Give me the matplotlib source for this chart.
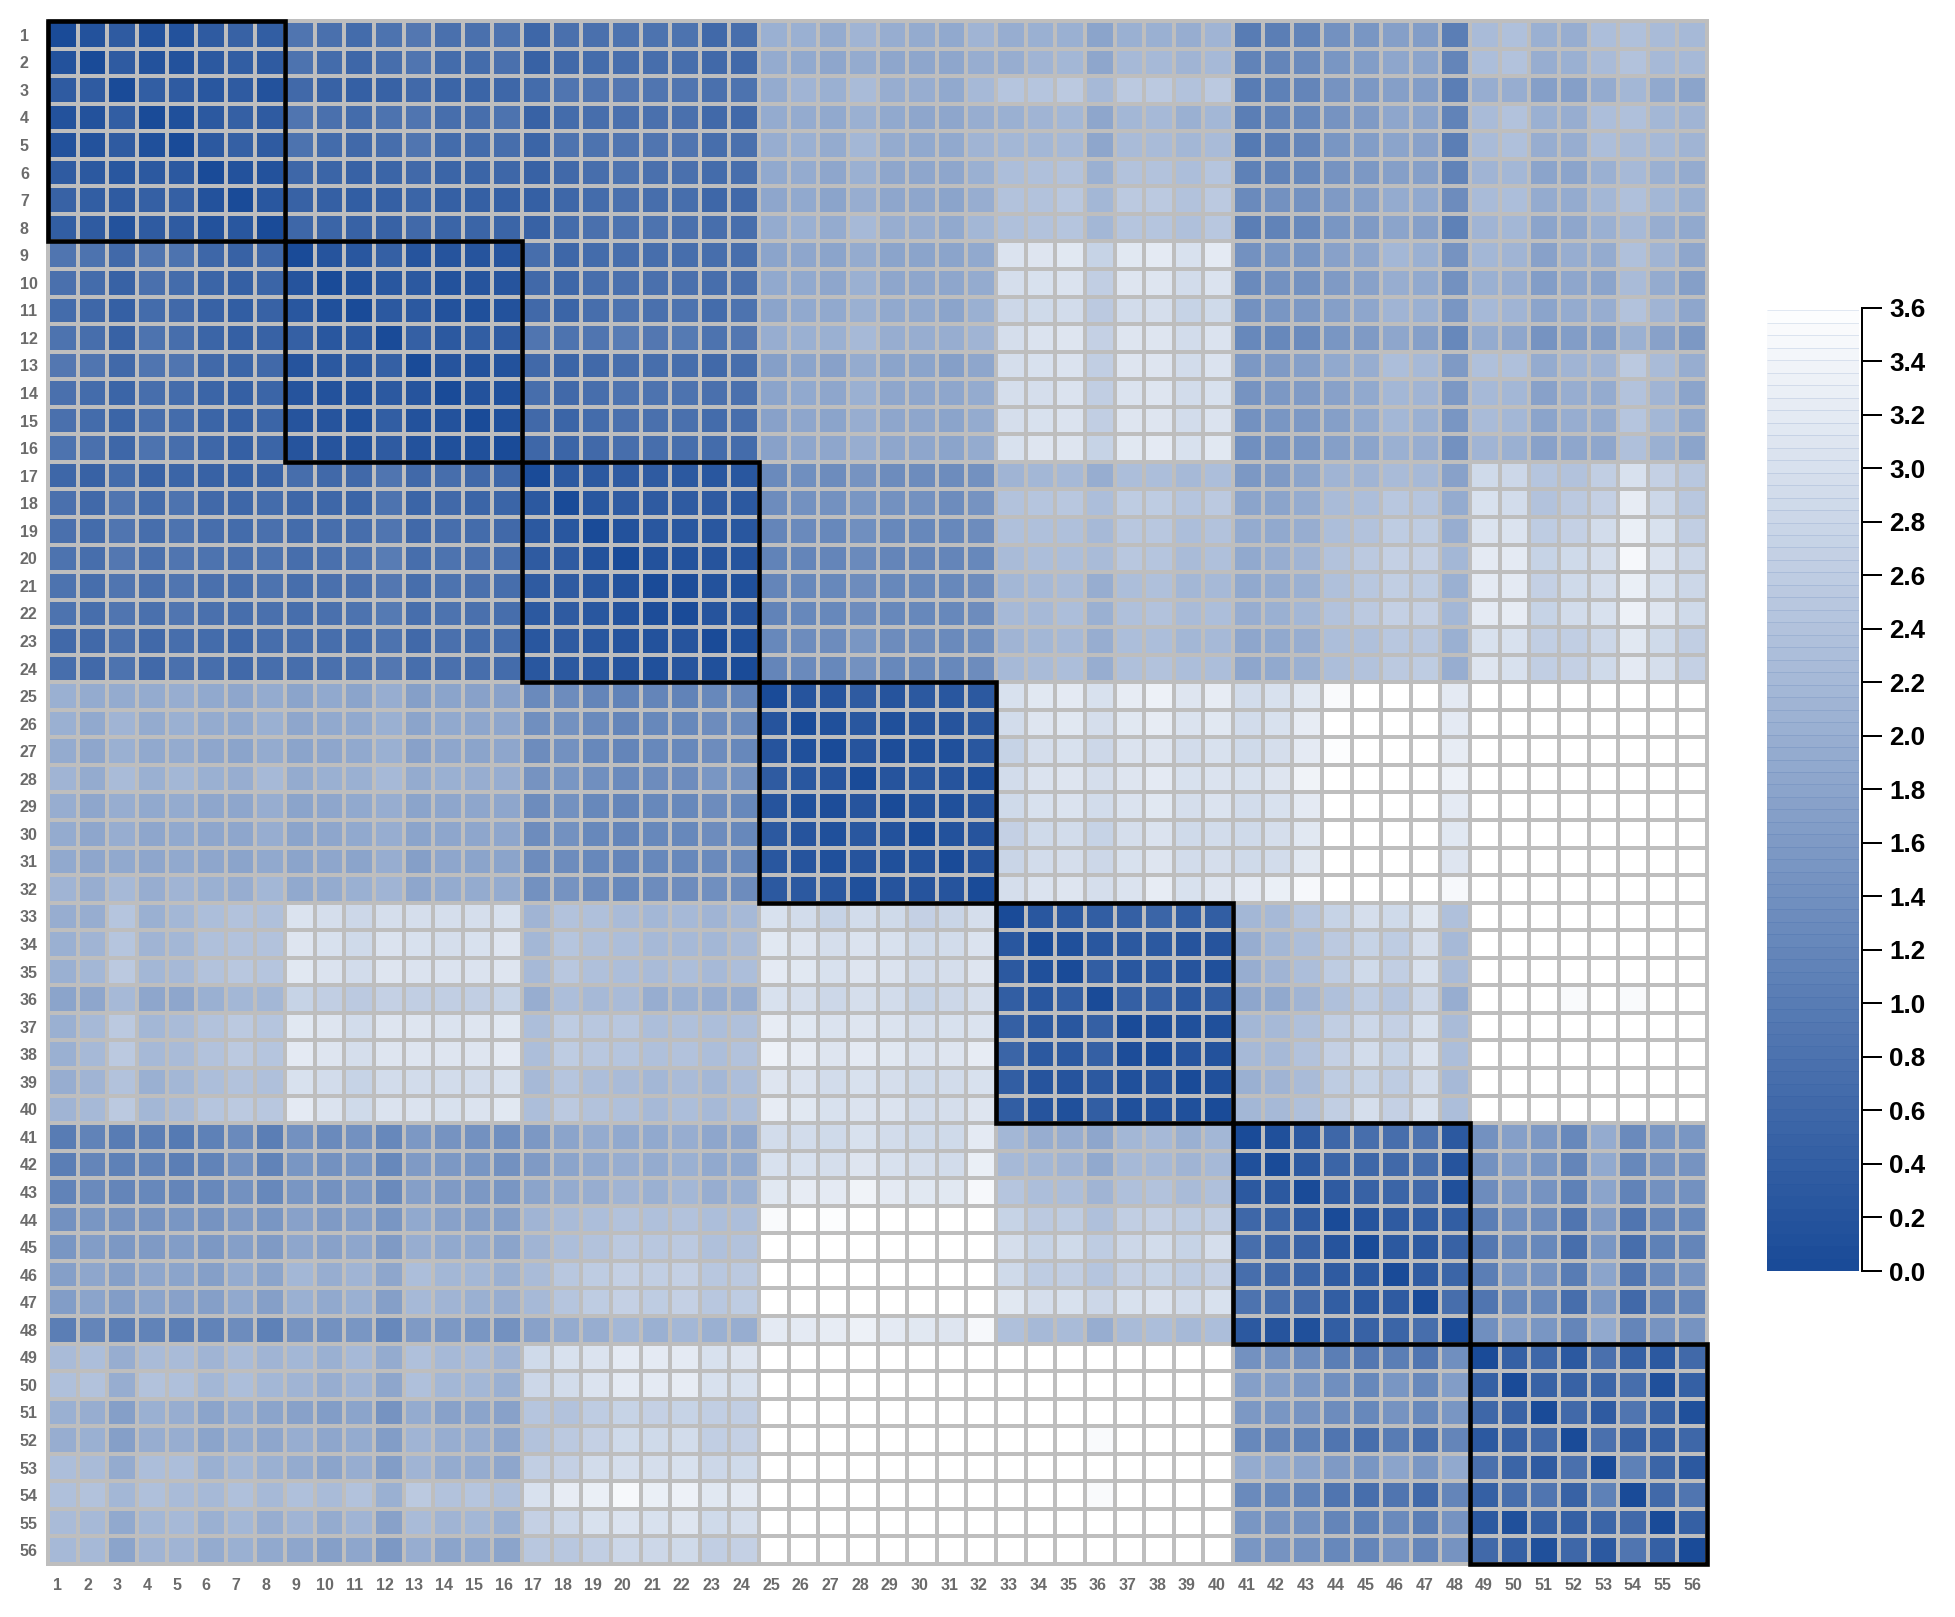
import numpy as np
import matplotlib
matplotlib.use('Agg')
import matplotlib.pyplot as plt
from matplotlib.colors import LinearSegmentedColormap, Normalize
from matplotlib.patches import Rectangle

W, H = 1955, 1617

labels = [str(i) for i in range(1, 57)]
cbar_ticks = [0.0, 0.2, 0.4, 0.6, 0.8, 1.0, 1.2, 1.4, 1.6, 1.8, 2.0, 2.2, 2.4, 2.6, 2.8, 3.0, 3.2, 3.4, 3.6]
# the boxed groups on the diagonal: first and last sample
groups = [(1, 8), (9, 16), (17, 24), (25, 32), (33, 40), (41, 48), (49, 56)]

# distances, lower triangle, the matrix is symmetric
g1 = [
    [0],
    [.15, 0],
    [.35, .35, 0],
    [.15, .15, .38, 0],
    [.15, .17, .35, .12, 0],
    [.35, .3, .25, .3, .3, 0],
    [.5, .4, .33, .42, .42, .18, 0],
    [.4, .35, .15, .35, .33, .15, .25, 0],
]
g2 = [
    [.88, .82, .62, .85, .8, .6, .5, .6, 0],
    [.78, .68, .5, .75, .68, .52, .42, .52, .2, 0],
    [.68, .6, .45, .68, .62, .48, .38, .47, .25, .12, 0],
    [.82, .72, .48, .8, .72, .52, .42, .48, .42, .27, .32, 0],
    [.9, .85, .65, .88, .85, .65, .55, .62, .2, .28, .32, .42, 0],
    [.75, .68, .55, .72, .68, .55, .45, .52, .2, .15, .15, .3, .22, 0],
    [.75, .68, .55, .72, .68, .53, .45, .52, .2, .2, .13, .38, .15, .15, 0],
    [.82, .75, .58, .8, .72, .58, .45, .55, .2, .2, .17, .35, .15, .12, .1, 0],
]
g3 = [
    [.58, .5, .68, .5, .52, .5, .42, .5, .7, .65, .65, .88, .65, .7, .65, .6, 0],
    [.75, .65, .85, .68, .8, .65, .6, .68, .58, .58, .55, .82, .52, .62, .55, .55, .28, 0],
    [.75, .68, .88, .72, .8, .72, .68, .75, .68, .72, .72, .85, .65, .72, .68, .65, .3, .27, 0],
    [.82, .72, .92, .78, .88, .8, .75, .8, .72, .78, .82, .98, .72, .82, .78, .72, .33, .33, .17, 0],
    [.8, .72, .88, .75, .85, .78, .72, .8, .72, .78, .78, .92, .72, .8, .75, .7, .33, .33, .25, .15, 0],
    [.8, .72, .88, .75, .85, .78, .72, .78, .72, .78, .8, .95, .72, .8, .75, .7, .32, .33, .25, .18, .08, 0],
    [.65, .62, .78, .62, .7, .68, .6, .7, .72, .72, .68, .82, .65, .75, .68, .68, .25, .33, .27, .22, .18, .22, 0],
    [.7, .62, .82, .65, .75, .7, .65, .73, .72, .75, .8, .92, .7, .78, .72, .68, .27, .32, .25, .22, .12, .22, .1, 0],
]
g4 = [
    [2.03, 1.95, 1.95, 1.95, 2.0, 1.9, 1.85, 1.95, 1.78, 1.88, 1.8, 1.98, 1.72, 1.8, 1.75, 1.75,
     1.3, 1.32, 1.2, 1.15, 1.2, 1.15, 1.25, 1.2, 0],
    [2.05, 1.9, 2.1, 1.95, 2.05, 1.95, 1.88, 2.05, 1.85, 1.9, 1.88, 2.05, 1.8, 1.9, 1.85, 1.85,
     1.38, 1.4, 1.3, 1.2, 1.25, 1.25, 1.35, 1.3, .2, 0],
    [1.95, 1.85, 2.03, 1.9, 1.93, 1.85, 1.8, 1.95, 1.8, 1.85, 1.88, 2.03, 1.75, 1.85, 1.8, 1.85,
     1.35, 1.4, 1.25, 1.2, 1.25, 1.25, 1.35, 1.25, .2, .13, 0],
    [2.1, 1.95, 2.25, 2.05, 2.15, 2.05, 2.0, 2.2, 1.95, 2.02, 2.02, 2.2, 1.93, 2.05, 1.98, 2.0,
     1.48, 1.5, 1.38, 1.3, 1.35, 1.35, 1.5, 1.4, .33, .25, .22, 0],
    [2.0, 1.85, 2.0, 1.9, 1.93, 1.85, 1.85, 1.98, 1.8, 1.85, 1.88, 2.0, 1.78, 1.85, 1.82, 1.85,
     1.35, 1.4, 1.25, 1.2, 1.25, 1.25, 1.35, 1.25, .2, .12, .06, .2, 0],
    [1.95, 1.82, 1.98, 1.85, 1.9, 1.85, 1.85, 1.98, 1.78, 1.85, 1.88, 2.0, 1.78, 1.85, 1.82, 1.82,
     1.35, 1.4, 1.25, 1.2, 1.25, 1.25, 1.35, 1.25, .3, .22, .12, .25, .18, 0],
    [1.9, 1.82, 1.9, 1.85, 1.9, 1.83, 1.78, 1.9, 1.78, 1.85, 1.8, 2.0, 1.72, 1.82, 1.78, 1.78,
     1.32, 1.35, 1.22, 1.2, 1.22, 1.22, 1.3, 1.22, .25, .2, .1, .2, .12, .15, 0],
    [2.1, 2.0, 2.2, 2.0, 2.1, 2.05, 2.0, 2.15, 1.88, 1.95, 2.02, 2.12, 1.85, 1.95, 1.92, 1.92,
     1.4, 1.45, 1.35, 1.22, 1.35, 1.32, 1.38, 1.35, .32, .3, .25, .12, .22, .22, .22, 0],
]
g5 = [
    [2.0, 2.0, 2.45, 2.05, 2.15, 2.3, 2.4, 2.35, 3.05, 2.95, 2.8, 2.98, 2.95, 2.95, 2.95, 3.02,
     2.1, 2.4, 2.35, 2.25, 2.15, 2.2, 2.1, 2.2, 3.0, 2.9, 2.75, 2.9, 2.85, 2.7, 2.78, 2.95, 0],
    [2.05, 2.1, 2.45, 2.1, 2.15, 2.35, 2.4, 2.4, 3.1, 3.0, 2.85, 3.05, 3.0, 2.98, 3.0, 3.08,
     2.15, 2.45, 2.35, 2.3, 2.2, 2.2, 2.15, 2.25, 3.15, 3.1, 2.95, 3.05, 3.0, 2.85, 2.9, 3.05, .27, 0],
    [2.05, 2.15, 2.55, 2.15, 2.2, 2.4, 2.5, 2.45, 3.15, 3.05, 2.9, 3.1, 3.05, 3.05, 3.05, 3.1,
     2.2, 2.5, 2.35, 2.3, 2.25, 2.3, 2.2, 2.3, 3.2, 3.15, 3.0, 3.1, 3.05, 2.9, 2.95, 3.1, .3, .1, 0],
    [1.8, 1.85, 2.2, 1.85, 1.85, 2.05, 2.15, 2.15, 2.75, 2.65, 2.55, 2.7, 2.65, 2.65, 2.65, 2.75,
     2.0, 2.3, 2.2, 2.25, 2.0, 2.05, 1.98, 2.0, 3.0, 2.95, 2.8, 2.95, 2.9, 2.75, 2.8, 2.95, .4, .25, .38, 0],
    [2.05, 2.2, 2.55, 2.15, 2.25, 2.4, 2.55, 2.45, 3.15, 3.1, 2.9, 3.1, 3.1, 3.05, 3.1, 3.15,
     2.3, 2.6, 2.5, 2.5, 2.3, 2.35, 2.3, 2.35, 3.25, 3.15, 3.05, 3.1, 3.05, 2.95, 3.0, 3.05, .45, .28, .27, .42, 0],
    [2.05, 2.2, 2.55, 2.2, 2.25, 2.4, 2.55, 2.45, 3.2, 3.1, 2.95, 3.1, 3.1, 3.1, 3.1, 3.2,
     2.3, 2.6, 2.5, 2.45, 2.35, 2.4, 2.3, 2.4, 3.35, 3.25, 3.1, 3.2, 3.15, 3.05, 3.1, 3.25, .52, .3, .3, .42, .07, 0],
    [2.0, 2.1, 2.4, 2.05, 2.15, 2.3, 2.4, 2.35, 3.0, 2.9, 2.75, 2.9, 2.9, 2.9, 2.9, 3.0,
     2.2, 2.45, 2.3, 2.25, 2.15, 2.25, 2.15, 2.3, 3.1, 3.05, 2.9, 3.0, 2.95, 2.85, 2.9, 3.0, .38, .2, .22, .3, .13, .2, 0],
    [2.1, 2.2, 2.55, 2.15, 2.25, 2.45, 2.55, 2.5, 3.2, 3.05, 2.85, 3.05, 3.05, 3.0, 3.05, 3.15,
     2.3, 2.55, 2.4, 2.35, 2.2, 2.3, 2.2, 2.3, 3.25, 3.15, 3.0, 3.05, 3.05, 2.9, 2.95, 3.1, .4, .22, .13, .38, .13, .18, .12, 0],
]
g6 = [
    [1.0, 1.12, 1.02, 1.05, .95, 1.1, 1.3, 1.05, 1.4, 1.3, 1.42, 1.22, 1.55, 1.45, 1.42, 1.38,
     1.55, 1.8, 1.95, 1.9, 1.9, 2.0, 1.85, 1.85, 2.9, 2.9, 2.85, 3.0, 2.9, 2.85, 2.85, 3.2,
     2.15, 2.0, 2.0, 1.85, 2.15, 2.2, 2.05, 2.15, 0],
    [1.05, 1.2, 1.1, 1.12, 1.05, 1.15, 1.4, 1.12, 1.5, 1.4, 1.5, 1.25, 1.6, 1.55, 1.5, 1.42,
     1.6, 1.8, 1.9, 2.0, 1.95, 2.05, 1.9, 1.9, 3.0, 3.0, 2.95, 3.1, 3.0, 2.98, 2.9, 3.3,
     2.2, 2.15, 2.1, 1.9, 2.2, 2.2, 2.1, 2.2, .1, 0],
    [1.15, 1.3, 1.2, 1.25, 1.2, 1.25, 1.4, 1.25, 1.5, 1.42, 1.55, 1.3, 1.7, 1.6, 1.55, 1.5,
     1.8, 1.95, 2.0, 2.1, 2.05, 2.15, 2.0, 2.05, 3.15, 3.25, 3.2, 3.4, 3.2, 3.15, 3.15, 3.45,
     2.45, 2.3, 2.3, 2.1, 2.35, 2.4, 2.25, 2.35, .3, .28, 0],
    [1.4, 1.5, 1.45, 1.45, 1.5, 1.45, 1.6, 1.5, 1.75, 1.6, 1.72, 1.5, 1.9, 1.75, 1.72, 1.7,
     2.1, 2.25, 2.3, 2.4, 2.35, 2.4, 2.3, 2.3, 3.5, 3.6, 3.55, 3.6, 3.6, 3.6, 3.6, 3.6,
     2.75, 2.55, 2.6, 2.35, 2.65, 2.7, 2.6, 2.65, .6, .52, .33, 0],
    [1.5, 1.65, 1.55, 1.6, 1.65, 1.55, 1.7, 1.6, 1.85, 1.75, 1.85, 1.6, 2.0, 1.9, 1.9, 1.8,
     2.1, 2.3, 2.4, 2.55, 2.5, 2.55, 2.35, 2.4, 3.6, 3.6, 3.6, 3.6, 3.6, 3.6, 3.6, 3.6,
     2.95, 2.75, 2.85, 2.6, 2.8, 2.9, 2.75, 2.95, .72, .6, .5, .2, 0],
    [1.7, 1.85, 1.7, 1.85, 1.8, 1.7, 1.95, 1.8, 2.15, 2.0, 2.1, 1.85, 2.3, 2.15, 2.15, 2.05,
     2.25, 2.5, 2.6, 2.7, 2.65, 2.7, 2.5, 2.55, 3.6, 3.6, 3.6, 3.6, 3.6, 3.6, 3.6, 3.6,
     2.85, 2.6, 2.65, 2.45, 2.7, 2.75, 2.6, 2.7, .72, .65, .55, .35, .3, 0],
    [1.65, 1.8, 1.65, 1.8, 1.75, 1.7, 1.9, 1.7, 2.05, 1.9, 2.05, 1.7, 2.2, 2.1, 2.05, 2.0,
     2.2, 2.45, 2.6, 2.7, 2.6, 2.7, 2.5, 2.6, 3.6, 3.6, 3.6, 3.6, 3.6, 3.6, 3.6, 3.6,
     3.15, 2.95, 3.0, 2.8, 3.0, 3.05, 2.9, 3.0, .82, .72, .65, .38, .28, .35, 0],
    [1.05, 1.2, 1.05, 1.12, 1.05, 1.15, 1.35, 1.1, 1.45, 1.4, 1.5, 1.25, 1.6, 1.55, 1.52, 1.42,
     1.75, 1.95, 2.0, 2.15, 2.05, 2.15, 2.05, 2.0, 3.2, 3.2, 3.25, 3.35, 3.2, 3.15, 3.1, 3.45,
     2.35, 2.2, 2.25, 2.0, 2.25, 2.3, 2.2, 2.3, .3, .22, .12, .38, .5, .55, .72, 0],
]
g7 = [
    [2.25, 2.3, 2.0, 2.25, 2.25, 2.1, 2.25, 2.1, 2.15, 2.05, 2.2, 1.95, 2.35, 2.2, 2.25, 2.1,
     2.85, 3.0, 3.05, 3.2, 3.2, 3.2, 3.0, 3.1, 3.6, 3.6, 3.6, 3.6, 3.6, 3.6, 3.6, 3.6,
     3.6, 3.6, 3.6, 3.6, 3.6, 3.6, 3.6, 3.6, 1.4, 1.42, 1.32, 1.05, .92, 1.05, .85, 1.38, 0],
    [2.35, 2.4, 2.0, 2.4, 2.35, 2.15, 2.3, 2.15, 2.1, 2.0, 2.1, 1.85, 2.35, 2.15, 2.15, 2.05,
     2.8, 2.9, 3.05, 3.2, 3.2, 3.25, 3.0, 3.0, 3.6, 3.6, 3.6, 3.6, 3.6, 3.6, 3.6, 3.6,
     3.6, 3.6, 3.6, 3.6, 3.6, 3.6, 3.6, 3.6, 1.72, 1.68, 1.58, 1.38, 1.25, 1.5, 1.25, 1.65, .42, 0],
    [2.05, 2.0, 1.7, 2.05, 2.0, 1.8, 1.95, 1.8, 1.75, 1.65, 1.8, 1.45, 1.95, 1.75, 1.8, 1.75,
     2.45, 2.4, 2.6, 2.75, 2.7, 2.75, 2.65, 2.65, 3.6, 3.6, 3.6, 3.6, 3.6, 3.6, 3.6, 3.6,
     3.6, 3.6, 3.6, 3.6, 3.6, 3.6, 3.6, 3.6, 1.55, 1.5, 1.48, 1.32, 1.22, 1.45, 1.25, 1.5, .6, .47, 0],
    [2.0, 2.05, 1.7, 2.0, 2.0, 1.8, 1.95, 1.85, 2.0, 1.85, 1.95, 1.65, 2.1, 2.0, 2.0, 1.85,
     2.4, 2.55, 2.7, 2.85, 2.85, 2.9, 2.65, 2.7, 3.6, 3.6, 3.6, 3.6, 3.6, 3.6, 3.6, 3.6,
     3.6, 3.6, 3.6, 3.5, 3.6, 3.6, 3.6, 3.6, 1.25, 1.2, 1.1, .85, .72, .98, .72, 1.2, .28, .48, .62, 0],
    [2.3, 2.25, 1.95, 2.3, 2.3, 2.05, 2.15, 2.05, 1.95, 1.8, 2.0, 1.65, 2.1, 1.95, 1.95, 1.85,
     2.65, 2.7, 2.9, 2.95, 2.95, 3.0, 2.8, 2.85, 3.6, 3.6, 3.6, 3.6, 3.6, 3.6, 3.6, 3.6,
     3.6, 3.6, 3.6, 3.6, 3.6, 3.6, 3.6, 3.6, 1.95, 1.88, 1.8, 1.6, 1.5, 1.8, 1.5, 1.9, .78, .55, .35, .78, 0],
    [2.35, 2.4, 2.15, 2.35, 2.25, 2.2, 2.35, 2.2, 2.35, 2.25, 2.4, 2.05, 2.55, 2.4, 2.45, 2.35,
     3.0, 3.25, 3.3, 3.45, 3.3, 3.35, 3.15, 3.2, 3.6, 3.6, 3.6, 3.6, 3.6, 3.6, 3.6, 3.6,
     3.6, 3.6, 3.6, 3.5, 3.6, 3.6, 3.6, 3.6, 1.3, 1.25, 1.12, .85, .7, .85, .65, 1.2, .45, .7, .88, .5, 1.1, 0],
    [2.25, 2.2, 1.9, 2.15, 2.2, 2.05, 2.15, 2.0, 2.1, 1.95, 2.1, 1.75, 2.25, 2.1, 2.15, 2.05,
     2.7, 2.8, 3.0, 3.05, 3.0, 3.1, 2.85, 2.95, 3.6, 3.6, 3.6, 3.6, 3.6, 3.6, 3.6, 3.6,
     3.6, 3.6, 3.6, 3.6, 3.6, 3.6, 3.6, 3.6, 1.5, 1.45, 1.42, 1.2, 1.1, 1.3, 1.05, 1.45, .3, .12, .42, .42, .55, .65, 0],
    [2.2, 2.2, 1.8, 2.1, 2.1, 1.95, 2.05, 1.9, 1.85, 1.7, 1.85, 1.55, 2.0, 1.8, 1.9, 1.8,
     2.5, 2.5, 2.65, 2.8, 2.8, 2.85, 2.65, 2.7, 3.6, 3.6, 3.6, 3.6, 3.6, 3.6, 3.6, 3.6,
     3.6, 3.6, 3.6, 3.6, 3.6, 3.6, 3.6, 3.6, 1.5, 1.48, 1.42, 1.25, 1.2, 1.45, 1.18, 1.45, .62, .42, .1, .6, .32, .85, .45, 0],
]

n = len(labels)
dist = np.zeros((n, n))
for i, row in enumerate(g1 + g2 + g3 + g4 + g5 + g6 + g7):
    dist[i, :len(row)] = row
dist = dist + dist.T

plt.rcParams['font.family'] = ['Liberation Sans', 'DejaVu Sans']
fig = plt.figure(figsize=(W / 100, H / 100), dpi=100)


def px_axes(left, top, right, bottom):
    return fig.add_axes([left / W, 1 - bottom / H, (right - left) / W, (bottom - top) / H])


def px(p):
    return p * 72 / 100


vmax = 3.636
nbands = 78
cmap = LinearSegmentedColormap.from_list('bl', ['#1A4B98', '#FFFFFF'], N=nbands)
norm = Normalize(0, vmax)

ax = px_axes(48, 21, 1707, 1564)
mesh = ax.pcolormesh(np.arange(n + 1), np.arange(n + 1), dist, cmap=cmap, norm=norm,
                     edgecolors='#BEBEBE', linewidth=px(4))
mesh.set_clip_on(False)
ax.set_xlim(0, n)
ax.set_ylim(n, 0)
for s in ax.spines.values():
    s.set_visible(False)

ticks = np.arange(n) + 0.5
# the bottom labels run a little tighter than the cells
ax.set_xticks(np.linspace(0.33, 55.5, n))
ax.set_xticklabels(labels, fontsize=11.5, fontweight='bold', color='#6b6b6b')
ax.set_yticks(ticks)
ax.set_yticklabels(labels, fontsize=11.5, fontweight='bold', color='#6b6b6b', ha='left')
ax.tick_params(axis='x', length=0, pad=px(14))
ax.tick_params(axis='y', length=0, pad=px(28))

for first, last in groups:
    ax.add_patch(Rectangle((first - 1, first - 1), last - first + 1, last - first + 1, fill=False,
                           edgecolor='black', linewidth=px(4.6), clip_on=False, zorder=5,
                           joinstyle='miter'))

# colour key on the right
cax = px_axes(1767, 298, 1859, 1271)
edges = np.linspace(0, vmax, nbands + 1)
key = (edges[:-1] + edges[1:]).reshape(-1, 1) / 2
cax.pcolormesh([0, 1], edges, key, cmap=cmap, norm=norm)
# the key has faint darker seams between its bands
cax.hlines(edges[1:-1], 0, 1, colors=cmap(norm(edges[1:-1] * 0.85)), linewidth=px(0.8))
cax.set_xlim(0, 1)
cax.set_ylim(0, vmax)
cax.set_xticks([])
cax.yaxis.tick_right()
cax.set_yticks(cbar_ticks)
cax.set_yticklabels(['%.1f' % t for t in cbar_ticks])
cax.tick_params(axis='y', length=px(20), width=px(2), pad=px(7), color='black')
for name in ['left', 'top', 'bottom']:
    cax.spines[name].set_visible(False)
cax.spines['right'].set_position(('outward', px(3)))
cax.spines['right'].set_bounds(0, 3.6)
cax.spines['right'].set_linewidth(px(2))
# after set_position, that call resets the ticks
for tick in cax.yaxis.get_major_ticks():
    tick.label2.set_fontsize(18.7)
    tick.label2.set_fontweight('bold')
    tick.label2.set_color('black')

fig.savefig('out.png', dpi=100)
